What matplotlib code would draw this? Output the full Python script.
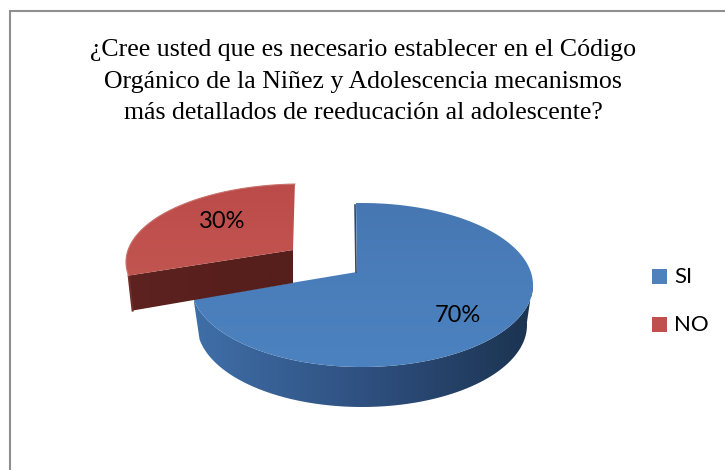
import numpy as np
import matplotlib
matplotlib.use("Agg")
import matplotlib.pyplot as plt
from matplotlib.patches import Polygon, Rectangle
from matplotlib.colors import LinearSegmentedColormap as LSC

categories = ["SI", "NO"]
values = [70, 30]
title_lines = ["¿Cree usted que es necesario establecer en el Código",
               "Orgánico de la Niñez y Adolescencia mecanismos",
               "más detallados de reeducación al adolescente?"]

W, H = 725, 470
fig = plt.figure(figsize=(W / 100, H / 100), dpi=100, facecolor="white")
ax = fig.add_axes([0, 0, 1, 1])
ax.set_xlim(0, W)
ax.set_ylim(H, 0)
ax.axis("off")

ax.add_patch(Rectangle((10.5, 10.5), 760, 500, fc="white", ec="#8f8f8f", lw=1.5))

for line, y in zip(title_lines, [50, 82, 113]):
    ax.text(363, y, line, ha="center", va="center", fontsize=18.6,
            family="Liberation Serif", color="black")

# projection of the pie, per slice
GEOM = {
    "SI": dict(cx=362, cy=285, rx=171, ry=82, rx_low=165, depth=40, apex=(357, 272)),
    "NO": dict(cx=301, cy=262, rx=175, ry=78, rx_low=171, depth=35, apex=(293, 250)),
}
STYLE = {
    "SI": dict(top=["#4677b2", "#4a7ebb", "#4c82c0"], side=["#3f6fa8", "#2f5080", "#1b3350"]),
    "NO": dict(top=["#bb4b48", "#c0504d", "#c05550"], side=["#5e2320", "#581f1c", "#551f1c"]),
}


def phi(frac):
    return np.radians(-2 + 360 * (frac + 0.0343 * np.sin(np.pi * frac)))


def rim(f0, f1, g, low=False, n=160):
    p = phi(np.linspace(f0, f1, n))
    rx = g["rx_low"] if low else g["rx"]
    dy = g["depth"] if low else 0
    return np.c_[g["cx"] + rx * np.sin(p), g["cy"] + dy - g["ry"] * np.cos(p)]


def grad(poly, colors, z, vertical=False):
    cmap = LSC.from_list("g", colors)
    t = np.linspace(0, 1, 256)
    t = t[:, None] if vertical else t[None, :]
    x0, y0 = poly.min(0)
    x1, y1 = poly.max(0)
    im = ax.imshow(t, extent=[x0, x1, y1, y0], cmap=cmap, aspect="auto", zorder=z, vmin=0, vmax=1)
    im.set_clip_path(Polygon(poly, transform=ax.transData))


fracs = np.cumsum([0] + values) / sum(values)
z = 2
for name, f0, f1 in zip(categories, fracs[:-1], fracs[1:]):
    g = GEOM[name]
    st = STYLE[name]
    apex = np.array(g["apex"], float)
    top = rim(f0, f1, g)
    if name == "SI":
        ff = np.linspace(f0, f1, 600)
        vis = ff[np.degrees(phi(ff)) >= 88]
        up = rim(vis[0], vis[-1], g)
        lo = rim(vis[0], vis[-1], g, low=True)
        grad(np.r_[up, lo[::-1]], st["side"], z)
    else:
        corner = top[0]
        lower = rim(f0, f0, g, low=True, n=1)[0]
        grad(np.array([corner, apex, apex + [0, g["depth"] - 2], lower]), st["side"], z)
        ax.plot([corner[0], lower[0]], [corner[1], lower[1]], color="#6e2e2a", lw=1.5, zorder=z)
    grad(np.r_[[apex], top], st["top"], z, vertical=True)
    if name == "SI":
        ax.plot([apex[0] - 1, top[0, 0] - 1], [apex[1], top[0, 1] + 2], color="#2c4a70", lw=1.2, zorder=z)
    else:
        ax.plot(top[:, 0], top[:, 1], color="#c9706c", lw=0.8, zorder=z)
    z += 1

LABEL = {"SI": (458, 315), "NO": (222, 221)}
for name, v in zip(categories, values):
    ax.text(*LABEL[name], f"{v}%", ha="center", va="center", fontsize=17,
            family="Lato", color="black", zorder=10)

for name, y, c in zip(categories, [276.5, 324.5], ["#4f81bd", "#c0504d"]):
    ax.add_patch(Rectangle((652, y - 7.5), 15, 15, fc=c, ec="none", zorder=5))
    ax.text(674, y + 0.5, name, ha="left", va="center", fontsize=16, family="Lato", color="black", zorder=10)

ax.set_xlim(0, W)
ax.set_ylim(H, 0)
fig.savefig("out.png", dpi=100)
